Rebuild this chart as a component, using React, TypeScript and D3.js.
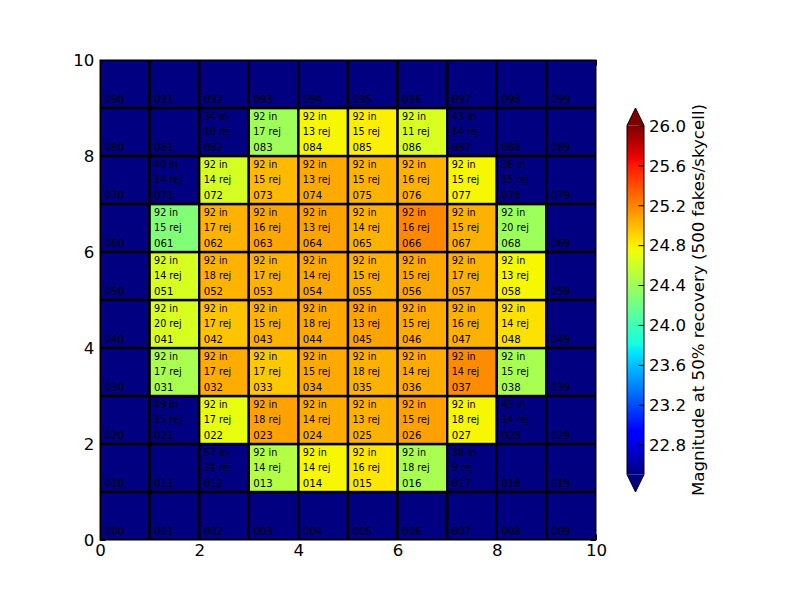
import { useRef, useEffect } from "react";
import * as d3 from "d3";

const WIDTH = 800;
const HEIGHT = 600;
const LEFT = 100;
const RIGHT = 596;
const TOP = 60;
const BOTTOM = 540;

const FONT = "DejaVu Sans, sans-serif";

const VMIN = 22.5;
const VMAX = 26.0;

// magnitude at 50% recovery, row 0 (bottom) .. row 9 (top), column 0..9; null = no fit
const MAG: (number | null)[][] = [
  [null, null, null, null, null, null, null, null, null, null],
  [null, null, null, 24.49, 24.77, 24.83, 24.44, null, null, null],
  [null, null, 24.71, 25.09, 25.05, 25.03, 25.09, 24.77, null, null],
  [null, 24.44, 25.05, 24.94, 25.06, 25.03, 25.05, 25.17, 24.44, null],
  [null, 24.64, 24.96, 25.02, 25.06, 25.08, 25.05, 25.03, 24.85, null],
  [null, 24.64, 25.02, 25.02, 25.06, 25.03, 25.06, 25.02, 24.77, null],
  [null, 24.27, 25.02, 25.07, 25.08, 25.02, 25.18, 25.03, 24.39, null],
  [null, null, 24.63, 25.0, 25.06, 25.02, 25.03, 24.77, null, null],
  [null, null, null, 24.4, 24.77, 24.8, 24.64, null, null, null],
  [null, null, null, null, null, null, null, null, null, null],
];

// fakes inside the skycell
const N_IN: (number | null)[][] = [
  [null, null, null, null, null, null, null, null, null, null],
  [null, null, 57, 92, 92, 92, 92, 38, null, null],
  [null, 49, 92, 92, 92, 92, 92, 92, 43, null],
  [null, 92, 92, 92, 92, 92, 92, 92, 92, null],
  [null, 92, 92, 92, 92, 92, 92, 92, 92, null],
  [null, 92, 92, 92, 92, 92, 92, 92, 92, null],
  [null, 92, 92, 92, 92, 92, 92, 92, 92, null],
  [null, 40, 92, 92, 92, 92, 92, 92, 38, null],
  [null, null, 34, 92, 92, 92, 92, 43, null, null],
  [null, null, null, null, null, null, null, null, null, null],
];

// rejected fakes
const N_REJ: (number | null)[][] = [
  [null, null, null, null, null, null, null, null, null, null],
  [null, null, 21, 14, 14, 16, 18, 9, null, null],
  [null, 15, 17, 18, 14, 13, 15, 18, 14, null],
  [null, 17, 17, 17, 15, 18, 14, 14, 15, null],
  [null, 20, 17, 15, 18, 13, 15, 16, 14, null],
  [null, 14, 18, 17, 14, 15, 15, 17, 13, null],
  [null, 15, 17, 16, 13, 14, 16, 15, 20, null],
  [null, 14, 14, 15, 13, 15, 16, 15, 15, null],
  [null, null, 10, 17, 13, 15, 11, 14, null, null],
  [null, null, null, null, null, null, null, null, null, null],
];

const AXIS_TICKS = [0, 2, 4, 6, 8, 10];
const CBAR_TICKS = [22.8, 23.2, 23.6, 24.0, 24.4, 24.8, 25.2, 25.6, 26.0];
const CBAR_LABEL = "Magnitude at 50% recovery (500 fakes/skycell)";

// matplotlib jet
const jetR = d3.scaleLinear([0, 0.35, 0.66, 0.89, 1], [0, 0, 1, 1, 0.5]).clamp(true);
const jetG = d3.scaleLinear([0, 0.125, 0.375, 0.64, 0.91, 1], [0, 0, 1, 1, 0, 0]).clamp(true);
const jetB = d3.scaleLinear([0, 0.11, 0.34, 0.65, 1], [0.5, 1, 1, 0, 0]).clamp(true);
const jet = (t: number) =>
  d3.rgb(jetR(t) * 255, jetG(t) * 255, jetB(t) * 255).formatHex();

const norm = d3.scaleLinear([VMIN, VMAX], [0, 1]).clamp(true);
const colorOf = (v: number | null) => (v == null ? jet(0) : jet(norm(v)));

// colorbar geometry
const CB_LEFT = 627;
const CB_RIGHT = 644;
const CB_TOP = 108;
const CB_BOTTOM = 492;
const EXT = (CB_BOTTOM - CB_TOP) / 1.1 * 0.05;

const fmtId = d3.format("03d");
const fmtCb = d3.format(".1f");

const App = () => {
  const gx = useRef<SVGGElement>(null);
  const gy = useRef<SVGGElement>(null);
  const gxt = useRef<SVGGElement>(null);
  const gyr = useRef<SVGGElement>(null);
  const gcb = useRef<SVGGElement>(null);

  const x = d3.scaleLinear([0, 10], [LEFT, RIGHT]);
  const y = d3.scaleLinear([0, 10], [BOTTOM, TOP]);
  const cb = d3.scaleLinear([VMIN, VMAX], [CB_BOTTOM - EXT, CB_TOP + EXT]);

  useEffect(() => {
    const style = (g: d3.Selection<SVGGElement, unknown, null, undefined>) => {
      g.select(".domain").remove();
      g.selectAll(".tick line").attr("stroke", "#000");
      g.selectAll("text")
        .attr("fill", "#000")
        .attr("font-family", FONT)
        .attr("font-size", 16.67);
    };

    d3.select(gx.current!)
      .call(d3.axisBottom(x).tickValues(AXIS_TICKS).tickFormat(d3.format("d")).tickSizeInner(-5.6).tickSizeOuter(0).tickPadding(4))
      .call(style);
    d3.select(gy.current!)
      .call(d3.axisLeft(y).tickValues(AXIS_TICKS).tickFormat(d3.format("d")).tickSizeInner(-5.6).tickSizeOuter(0).tickPadding(5.6))
      .call(style);
    d3.select(gxt.current!)
      .call(d3.axisTop(x).tickValues(AXIS_TICKS).tickFormat(() => "").tickSizeInner(-5.6).tickSizeOuter(0))
      .call(style);
    d3.select(gyr.current!)
      .call(d3.axisRight(y).tickValues(AXIS_TICKS).tickFormat(() => "").tickSizeInner(-5.6).tickSizeOuter(0))
      .call(style);
    d3.select(gcb.current!)
      .call(d3.axisRight(cb).tickValues(CBAR_TICKS).tickFormat((d) => fmtCb(d as number)).tickSizeInner(-5.6).tickSizeOuter(0).tickPadding(5))
      .call(style);
    d3.select(gcb.current!).selectAll("text").attr("dy", "0.35em");
  }, []);

  const cells: { r: number; c: number }[] = [];
  MAG.forEach((row, r) => row.forEach((_v, c) => cells.push({ r, c })));

  const stops = d3.range(0, 1.0001, 1 / 64);
  const cw = x(1) - x(0);

  return (
    <svg
      width={WIDTH}
      height={HEIGHT}
      style={{ position: "absolute", left: 0, top: 0, background: "#fff" }}
    >
      <defs>
        <clipPath id="plot-clip">
          <rect x={LEFT} y={TOP} width={RIGHT - LEFT} height={BOTTOM - TOP} />
        </clipPath>
        <linearGradient id="jet-grad" x1="0" y1="1" x2="0" y2="0">
          {stops.map((t) => (
            <stop key={t} offset={t} stopColor={jet(t)} />
          ))}
        </linearGradient>
      </defs>

      <g clipPath="url(#plot-clip)">
        {cells.map(({ r, c }) => (
          <rect
            key={`${r}-${c}`}
            x={x(c)}
            y={y(r + 1)}
            width={cw}
            height={y(r) - y(r + 1)}
            fill={colorOf(MAG[r][c])}
            stroke="#000"
            strokeWidth={2.4}
          />
        ))}
      </g>

      <g fontFamily={FONT} fill="#000">
        {cells.map(({ r, c }) => {
          const nin = N_IN[r][c];
          const nrej = N_REJ[r][c];
          return (
            <g key={`t-${r}-${c}`}>
              {nin != null && (
                <text x={x(c + 0.09)} y={y(r + 0.744)} fontSize={9.6}>
                  {`${nin} in`}
                </text>
              )}
              {nrej != null && (
                <text x={x(c + 0.09)} y={y(r + 0.444)} fontSize={9.6}>
                  {`${nrej} rej`}
                </text>
              )}
              <text x={x(c + 0.09)} y={y(r + 0.104)} fontSize={10.2}>
                {fmtId(r * 10 + c)}
              </text>
            </g>
          );
        })}
      </g>

      <rect
        x={LEFT}
        y={TOP}
        width={RIGHT - LEFT}
        height={BOTTOM - TOP}
        fill="none"
        stroke="#000"
        strokeWidth={1}
      />
      <g ref={gx} transform={`translate(0,${BOTTOM})`} />
      <g ref={gy} transform={`translate(${LEFT},0)`} />
      <g ref={gxt} transform={`translate(0,${TOP})`} />
      <g ref={gyr} transform={`translate(${RIGHT},0)`} />

      {/* colorbar */}
      <rect
        x={CB_LEFT}
        y={CB_TOP + EXT}
        width={CB_RIGHT - CB_LEFT}
        height={CB_BOTTOM - CB_TOP - 2 * EXT}
        fill="url(#jet-grad)"
      />
      <polygon
        points={`${CB_LEFT},${CB_TOP + EXT} ${CB_RIGHT},${CB_TOP + EXT} ${(CB_LEFT + CB_RIGHT) / 2},${CB_TOP}`}
        fill={jet(1)}
      />
      <polygon
        points={`${CB_LEFT},${CB_BOTTOM - EXT} ${CB_RIGHT},${CB_BOTTOM - EXT} ${(CB_LEFT + CB_RIGHT) / 2},${CB_BOTTOM}`}
        fill={jet(0)}
      />
      <polygon
        points={`${CB_LEFT},${CB_TOP + EXT} ${(CB_LEFT + CB_RIGHT) / 2},${CB_TOP} ${CB_RIGHT},${CB_TOP + EXT} ${CB_RIGHT},${CB_BOTTOM - EXT} ${(CB_LEFT + CB_RIGHT) / 2},${CB_BOTTOM} ${CB_LEFT},${CB_BOTTOM - EXT}`}
        fill="none"
        stroke="#000"
        strokeWidth={1}
      />
      <g ref={gcb} transform={`translate(${CB_RIGHT},0)`} />
      <text
        transform={`translate(698,${(CB_TOP + CB_BOTTOM) / 2}) rotate(-90)`}
        textAnchor="middle"
        dominantBaseline="central"
        fontFamily={FONT}
        fontSize={16.67}
        fill="#000"
      >
        {CBAR_LABEL}
      </text>
    </svg>
  );
};

export default App;
